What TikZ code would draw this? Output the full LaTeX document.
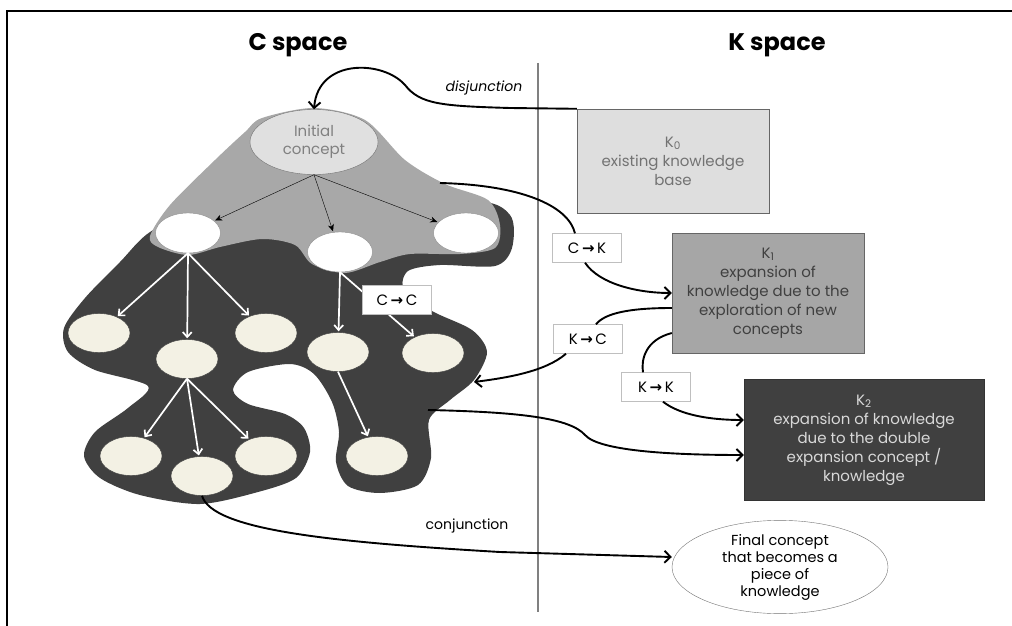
\documentclass[tikz,border=0pt]{standalone}
\usepackage{fontspec}
\setmainfont{Poppins}
\newfontfamily\arrowfont{DejaVu Sans}
\usetikzlibrary{shapes.geometric,arrows.meta}
\definecolor{cream}{HTML}{F3F1E4}
\definecolor{lightarea}{HTML}{A8A8A8}
\definecolor{darkarea}{HTML}{404040}
\definecolor{kzero}{HTML}{DEDEDE}
\definecolor{kone}{HTML}{A6A6A6}
\definecolor{ktwo}{HTML}{404040}
\newcommand{\goesto}{\,{\arrowfont\bfseries →}\,}

\begin{document}
\begin{tikzpicture}
	[x=1pt,y=-1pt,
	 concept/.style={ellipse,draw=black!45,fill=white,minimum width=65pt,minimum height=40pt,inner sep=0pt},
	 idea/.style={ellipse,draw=black!75,fill=cream,minimum width=62pt,minimum height=39pt,inner sep=0pt},
	 kbox/.style={rectangle,draw=black!60,align=center,inner sep=0pt,font=\fontsize{15}{19}\selectfont},
	 oplabel/.style={rectangle,draw=black!25,fill=white,minimum width=69pt,minimum height=29pt,inner sep=0pt,font=\fontsize{15}{18}\selectfont},
	 blackarrowpost/.style={{Stealth[length=7pt,width=6pt]}-,shorten <=1pt,thin},
	 whitearrowpost/.style={{Straight Barb[length=5pt,width=9pt]}-,shorten <=1pt,white,line width=1.7pt},
	 linkarrow/.style={-{Straight Barb[length=6pt,width=12pt]},line width=1.9pt},
	 link/.style={line width=1.9pt}]
\useasboundingbox (0,0) rectangle (1012,626);
\draw[line width=1.5pt] (7,640) -- (7,11) -- (1030,11);
\draw[black!50,line width=1.2pt] (538,63) -- (538,612);

\node[font=\fontsize{24}{28}\selectfont\bfseries] (ctitle) at (298,45) {C space};
\node[font=\fontsize{24}{28}\selectfont\bfseries] (ktitle) at (777,45) {K space};

\fill[darkarea] plot[smooth cycle] coordinates {(150,232) (120,262) (85,298) (64,328) (68,352) (95,370) (148,386) (128,408) (95,432) (84,456) (100,478) (140,495) (200,504) (258,492) (296,478) (310,452) (304,428) (285,414) (248,404) (233,390) (248,372) (290,364) (314,374) (332,402) (339,432) (336,462) (348,486) (380,493) (418,485) (431,458) (429,420) (450,400) (474,380) (487,352) (472,330) (432,311) (404,290) (408,271) (440,265) (495,266) (512,248) (510,215) (470,200) (300,200) (200,210)};
\fill[lightarea] plot[smooth cycle] coordinates {(262,118) (314,108) (365,120) (405,160) (445,184) (488,200) (500,225) (495,248) (460,254) (410,254) (380,262) (345,273) (312,264) (295,245) (262,239) (220,247) (188,255) (158,247) (150,236) (170,205) (215,160) (245,132)};

\node[concept,fill=black!12,draw=black!55,minimum width=128pt,minimum height=65pt,align=center,text=black!50,font=\fontsize{15}{18}\selectfont] (ini) at (314,142) {Initial\\concept};
\node[concept] (cA) at (188,233) {}
	edge [blackarrowpost] (ini.south);
\node[concept] (cB) at (340,252) {}
	edge [blackarrowpost] (ini.south);
\node[concept] (cC) at (466,233) {}
	edge [blackarrowpost] (ini.south);

\node[idea] (a1) at (99,333) {}
	edge [whitearrowpost] (cA.south);
\node[idea] (a2) at (187,359) {}
	edge [whitearrowpost] (cA.south);
\node[idea] (a3) at (266,333) {}
	edge [whitearrowpost] (cA.south);
\node[idea] (b1) at (338,352) {}
	edge [whitearrowpost] (cB.south);
\node[idea] (b2) at (433,353) {}
	edge [whitearrowpost] (cB.south);

\node[idea] (d1) at (131,456) {}
	edge [whitearrowpost] (a2.south);
\node[idea] (d2) at (202,476) {}
	edge [whitearrowpost] (a2.south);
\node[idea] (d3) at (266,456) {}
	edge [whitearrowpost] (a2.south);
\node[idea] (e1) at (377,456) {}
	edge [whitearrowpost] (b1.south);

\node[oplabel] (cc) at (397,300) {C\goesto C};

\node[kbox,fill=kzero,text=black!55,minimum width=192pt,minimum height=104pt] (K0) at (673,161) {K\textsubscript{0}\\existing knowledge\\base};
\node[kbox,fill=kone,text=black!75,minimum width=192pt,minimum height=120pt] (K1) at (768,293) {K\textsubscript{1}\\expansion of\\knowledge due to the\\exploration of new\\concepts};
\node[kbox,fill=ktwo,draw=black!80,text=black!15,minimum width=240pt,minimum height=121pt] (K2) at (864,440) {K\textsubscript{2}\\expansion of knowledge\\due to the double\\expansion concept /\\knowledge};
\node[ellipse,draw=black!55,fill=white,minimum width=216pt,minimum height=89pt,inner sep=0pt,align=center,font=\fontsize{14.5}{17}\selectfont] (final) at (780,567) {Final concept\\that becomes a\\piece of\\knowledge};

\node[oplabel] (ck) at (587,248) {C\goesto K};
\node[oplabel] (kc) at (588,339) {K\goesto C};
\node[oplabel] (kk) at (656,387) {K\goesto K};

\coordinate (grayrim) at (440,183);
\coordinate (blobtip) at (474,382);
\coordinate (blobrim) at (428,410);

\draw[linkarrow] (K0.north west) -- (510,108) .. controls (440,106) and (420,104) .. (405,85) .. controls (383,60) and (318,58) .. (ini.north);
\node[font=\fontsize{14}{17}\selectfont\itshape] (disj) at (484,88) {disjunction};

\draw[link] (grayrim) .. controls (520,185) and (568,205) .. ([xshift=-12pt]ck.north);
\draw[linkarrow] ([xshift=-2pt]ck.south) .. controls (600,285) and (640,293) .. (K1.west);

\draw[link] ([yshift=-15pt]K1.west) .. controls (630,308) and (605,313) .. ([xshift=8pt]kc.north);
\draw[linkarrow] ([xshift=-22pt]kc.south) .. controls (545,372) and (505,378) .. (blobtip);

\draw[link] ([yshift=-40pt]K1.west) .. controls (645,340) and (641,360) .. ([xshift=-13pt]kk.north);
\draw[linkarrow] ([xshift=7pt]kk.south) .. controls (680,415) and (710,420) .. ([yshift=20pt]K2.west);

\draw[linkarrow] (blobrim) .. controls (520,412) and (570,418) .. (585,435) .. controls (600,452) and (680,455) .. ([yshift=-15pt]K2.west);

\draw[linkarrow] (d2.south) .. controls (212,530) and (330,542) .. (500,552) -- ([yshift=10pt]final.west);
\node[font=\fontsize{14}{17}\selectfont] (conj) at (467,526) {conjunction};
\end{tikzpicture}
\end{document}
